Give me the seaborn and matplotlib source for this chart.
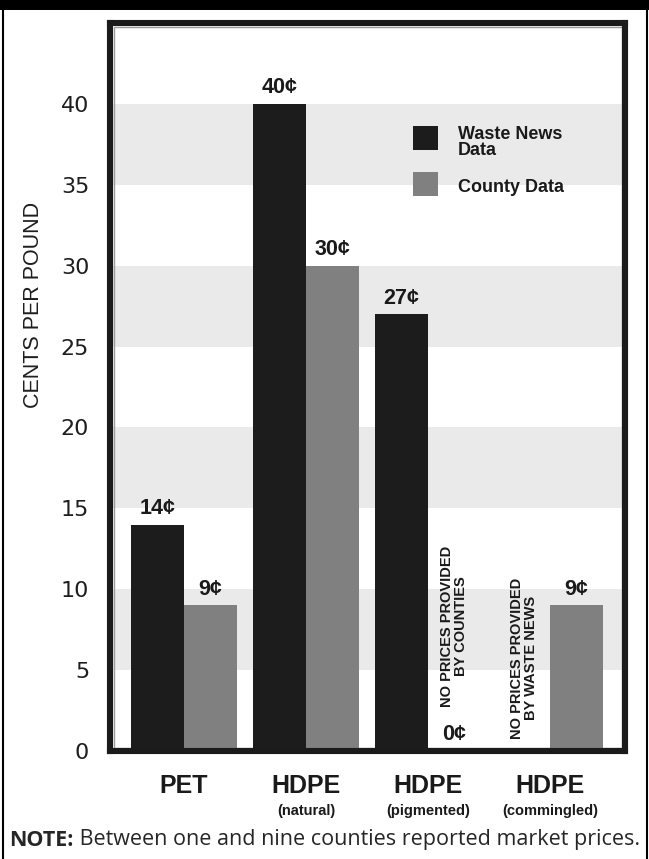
import matplotlib
matplotlib.use("Agg")
import matplotlib.pyplot as plt
import matplotlib.patches as mpatches
import matplotlib.transforms as mtrans
from matplotlib.lines import Line2D
import numpy as np
import pandas as pd
import seaborn as sns

# ---- data -------------------------------------------------------------
materials = ["PET", "HDPE", "HDPE", "HDPE"]
material_kinds = ["", "(natural)", "(pigmented)", "(commingled)"]
sources = ["Waste News\nData", "County Data"]
waste_news = [14, 40, 27, np.nan]      # no Waste News price for commingled HDPE
county = [9, 30, 0, 9]
y_ticks = [0, 5, 10, 15, 20, 25, 30, 35, 40]
no_price_notes = [
    (2, 1, "NO PRICES PROVIDED\nBY COUNTIES"),
    (3, 0, "NO PRICES PROVIDED\nBY WASTE NEWS"),
]
note_bold = "NOTE:"
note_text = " Between one and nine counties reported market prices."

BLACK = "#1c1c1c"
GRAY = "#808080"
BAND = "#eaeaea"

sns.set_style("white")
plt.rcParams["font.family"] = ["Liberation Sans", "DejaVu Sans"]

keys = [f"{m} {k}".strip() for m, k in zip(materials, material_kinds)]
df = pd.DataFrame({
    "material": keys * 2,
    "source": [sources[0]] * len(keys) + [sources[1]] * len(keys),
    "price": list(waste_news) + list(county),
})

W, H = 649, 859
fig = plt.figure(figsize=(W / 100, H / 100), dpi=100)
ax = fig.add_axes([110 / W, 1 - 751 / H, 515 / W, 728 / H])

# alternating horizontal bands
for lo in y_ticks[1::2]:
    ax.axhspan(lo, lo + 5, color=BAND, zorder=0, lw=0)

sns.barplot(data=df, x="material", y="price", hue="source",
            order=keys, hue_order=sources, palette=[BLACK, GRAY],
            saturation=1, width=0.868, gap=0, errorbar=None,
            legend=False, edgecolor="none", ax=ax)

ax.set_xlim(-0.607, 3.615)
ax.set_ylim(0, 45)

# thin inner rule just inside the heavy frame
dx, dy = 3.5 / 515, 3.5 / 728
ax.add_patch(mpatches.Rectangle((dx, dy), 1 - 2 * dx, 1 - 2 * dy,
                                transform=ax.transAxes, fill=False,
                                ec="#9c9c9c", lw=1.0, zorder=0.5))

for s in ax.spines.values():
    s.set_visible(True)
    s.set_linewidth(4.4)
    s.set_color("#1b1b1b")

ax.set_yticks(y_ticks)
ax.tick_params(axis="y", length=0, pad=15, labelsize=16, labelcolor="#1e1e1e")
for lbl in ax.get_yticklabels():
    lbl.set_fontfamily("DejaVu Sans")
ax.set_xticks(range(len(keys)))
ax.set_xticklabels([])
ax.tick_params(axis="x", length=0)
ax.set_xlabel("")
ax.set_ylabel("CENTS PER POUND", fontsize=15.5, color="#1e1e1e", va="center")
ax.yaxis.set_label_coords(-(110 - 34) / 515, (751 - 305) / 728)

# value labels above each bar
bar_w = ax.containers[0][0].get_width()
for cont in ax.containers:
    for bar in cont:
        h = bar.get_height()
        if np.isnan(h):
            continue
        ax.annotate(f"{h:.0f}\u00a2", (bar.get_x() + bar.get_width() / 2, h),
                    xytext=(0, 4), textcoords="offset points",
                    ha="center", va="bottom", fontsize=15.5, fontweight="bold",
                    color="#1a1a1a")

# notes for missing prices
for cat, src, txt in no_price_notes:
    xpos = cat + (bar_w / 2 if src == 1 else -bar_w / 2)
    ypos = 7.7 if src == 1 else 5.75
    ax.text(xpos, ypos, txt, rotation=90, ha="center", va="center",
            multialignment="center", fontsize=10.5, fontweight="bold",
            linespacing=1.0, color="#1a1a1a")

# category labels under the axis
blend = mtrans.blended_transform_factory(ax.transData, ax.transAxes)
for i, (m, k) in enumerate(zip(materials, material_kinds)):
    ax.text(i, (751 - 786) / 728, m, transform=blend, ha="center", va="center",
            fontsize=18, fontweight="bold", color="#1a1a1a", clip_on=False)
    if k:
        ax.text(i, (751 - 811) / 728, k, transform=blend, ha="center",
                va="center", fontsize=10.5, fontweight="bold",
                color="#1a1a1a", clip_on=False)

# legend
legend_rows = [(sources[0], BLACK, 150, 142.5), (sources[1], GRAY, 196, 188)]
for label, col, sq_bottom, txt_y in legend_rows:
    ax.add_patch(mpatches.Rectangle(((413 - 110) / 515, (751 - sq_bottom) / 728),
                                    25 / 515, 24 / 728, transform=ax.transAxes,
                                    fc=col, ec="none", zorder=3))
    ax.text((458 - 110) / 515, (751 - txt_y) / 728, label,
            transform=ax.transAxes, ha="left", va="center", fontsize=13,
            fontweight="bold", linespacing=0.95, color="#1a1a1a", zorder=3)

# title band and outer frame
fig.add_artist(mpatches.Rectangle((0, 1 - 10 / H), 1, 10 / H,
                                  transform=fig.transFigure, fc="black", ec="none"))
for xp in (3 / W, 646.5 / W):
    fig.add_artist(Line2D([xp, xp], [0, 1 - 10 / H], transform=fig.transFigure,
                          lw=1.5, color="black"))

# footnote with bold lead-in
fig.canvas.draw()
r = fig.canvas.get_renderer()
t1 = fig.text(0, 1 - 840 / H, note_bold, fontsize=15.5, fontweight="bold",
              family=["Open Sans", "DejaVu Sans"], va="center", ha="left")
t2 = fig.text(0, 1 - 840 / H, note_text, fontsize=15.5,
              family=["Open Sans", "DejaVu Sans"], va="center", ha="left")
w1 = t1.get_window_extent(r).width
w2 = t2.get_window_extent(r).width
x0 = (W - w1 - w2) / 2
t1.set_x(x0 / W)
t2.set_x((x0 + w1) / W)

fig.savefig("out.png", dpi=100)
